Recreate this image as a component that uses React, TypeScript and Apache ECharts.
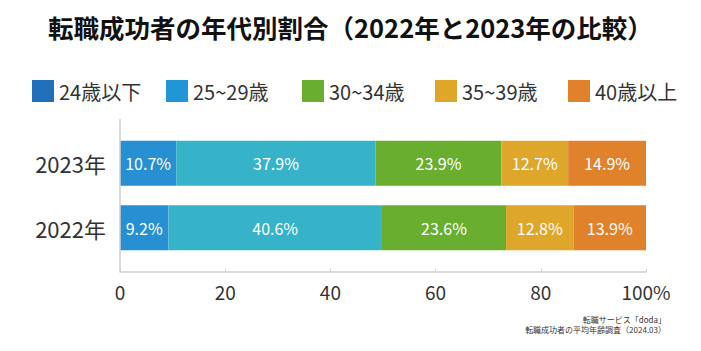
import React, { useEffect, useRef } from "react";
import * as echarts from "echarts";

const TITLE = "転職成功者の年代別割合（2022年と2023年の比較）";
const YEARS = ["2022年", "2023年"];
const AGE_GROUPS = ["24歳以下", "25~29歳", "30~34歳", "35~39歳", "40歳以上"];
const V_24_UNDER = [9.2, 10.7];
const V_25_29 = [40.6, 37.9];
const V_30_34 = [23.6, 23.9];
const V_35_39 = [12.8, 12.7];
const V_40_OVER = [13.9, 14.9];
const X_TICKS = [0, 20, 40, 60, 80, 100];
const SOURCE_LINES = ["転職サービス「doda」", "転職成功者の平均年齢調査（2024.03）"];

const BAR_COLORS = ["#2690D2", "#36B2C9", "#6AAE30", "#DEA62A", "#E0822C"];
const LEGEND_COLORS = ["#1F6FBA", "#2196D6", "#6AAE30", "#DEA62A", "#E0822C"];
const LEGEND_LEFT = [27, 161, 297, 430, 563];
const FONT = "'Noto Sans CJK JP', 'Noto Sans', sans-serif";

export default function App() {
  const ref = useRef<HTMLDivElement>(null);
  useEffect(() => {
    if (!ref.current) return;
    const chart = echarts.init(ref.current, undefined, { renderer: "svg" });
    const values = [V_24_UNDER, V_25_29, V_30_34, V_35_39, V_40_OVER];
    chart.setOption({
      animation: false,
      backgroundColor: "#ffffff",
      textStyle: { fontFamily: FONT },
      title: {
        text: TITLE,
        left: 43,
        top: 9,
        textStyle: { fontSize: 25.5, fontWeight: "bold", color: "#111", fontFamily: FONT },
      },
      legend: AGE_GROUPS.map((n, i) => ({
        top: 75,
        left: LEGEND_LEFT[i],
        itemWidth: 22,
        itemHeight: 22,
        itemGap: 0,
        icon: "rect",
        textStyle: { fontSize: 20, color: "#333", fontFamily: FONT },
        data: [{ name: n, itemStyle: { color: LEGEND_COLORS[i] } }],
      })),
      grid: { left: 120, right: 55, top: 131, bottom: 91, containLabel: false },
      xAxis: {
        type: "value",
        min: 0,
        max: 100,
        interval: 20,
        offset: 12,
        axisLine: { show: true, lineStyle: { color: "#cfcfcf", width: 1.5 } },
        axisTick: { show: true, inside: true, length: 3, lineStyle: { color: "#cfcfcf" } },
        splitLine: { show: false },
        axisLabel: {
          fontSize: 19,
          color: "#333",
          margin: 10,
          fontFamily: FONT,
          formatter: (v: number) => (v === X_TICKS[X_TICKS.length - 1] ? v + "%" : String(v)),
        },
      },
      yAxis: {
        type: "category",
        data: YEARS,
        axisLine: { show: false },
        axisTick: { show: false },
        axisLabel: { fontSize: 22, color: "#333", margin: 14, fontFamily: FONT },
      },
      graphic: [
        {
          type: "line",
          shape: { x1: 120, y1: 119, x2: 120, y2: 272 },
          style: { stroke: "#cfcfcf", lineWidth: 1.5 },
          z: 10,
        },
        {
          type: "text",
          right: 35,
          top: 314,
          style: {
            text: SOURCE_LINES.join("\n"),
            textAlign: "right",
            fontSize: 8,
            lineHeight: 10,
            fill: "#333",
            fontFamily: FONT,
          },
        },
      ],
      series: AGE_GROUPS.map((name, i) => ({
        name,
        type: "bar",
        stack: "total",
        barWidth: 45,
        itemStyle: { color: BAR_COLORS[i] },
        label: {
          show: true,
          position: "inside",
          color: "#fff",
          fontSize: 16,
          fontFamily: FONT,
          formatter: (p: any) => Number(p.value).toFixed(1) + "%",
        },
        data: values[i],
      })),
    });
    return () => chart.dispose();
  }, []);
  return <div ref={ref} style={{ width: 701, height: 351, position: "absolute", left: 0, top: 0 }} />;
}
